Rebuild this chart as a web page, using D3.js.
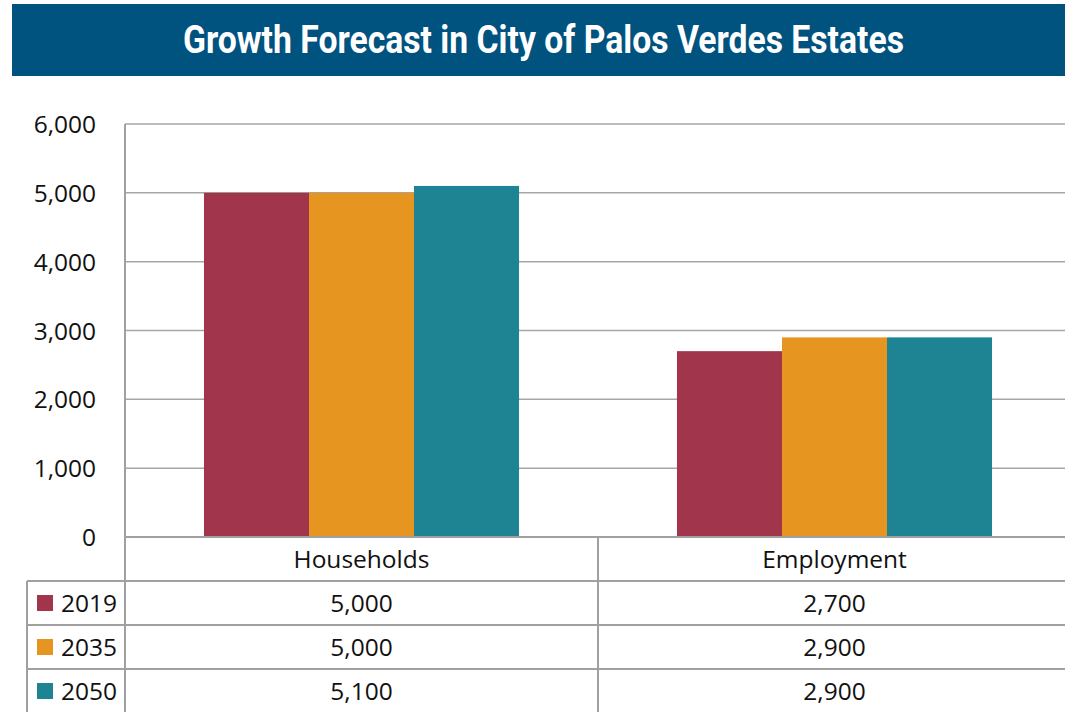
<!DOCTYPE html>
<html>
<head>
<meta charset="utf-8">
<script src="https://cdn.jsdelivr.net/npm/d3@7"></script>
<style>
  html, body { margin: 0; padding: 0; background: #ffffff; }
  svg { display: block; }
</style>
</head>
<body>
<svg id="chart" width="1065" height="712"></svg>
<script>
const title = "Growth Forecast in City of Palos Verdes Estates";
const categories = ["Households", "Employment"];
const years = ["2019", "2035", "2050"];
const values2019 = [5000, 2700];
const values2035 = [5000, 2900];
const values2050 = [5100, 2900];
const colors = ["#A0354B", "#E69521", "#1E8494"];
const yTicks = [0, 1000, 2000, 3000, 4000, 5000, 6000];

const seriesValues = [values2019, values2035, values2050];

const svg = d3.select("#chart");
const fmt = d3.format(",");
const fontFamily = "'Open Sans', 'Noto Sans', sans-serif";
const gridColor = "#A6A6A6";
const tableColor = "#A0A0A0";

// Title banner
svg.append("rect").attr("x", 12).attr("y", 4).attr("width", 1053).attr("height", 72).attr("fill", "#00527F");
svg.append("text")
  .attr("x", 543.5).attr("y", 53)
  .attr("text-anchor", "middle")
  .attr("font-family", "Roboto, 'DejaVu Sans', sans-serif")
  .attr("font-weight", "bold")
  .attr("font-size", 38)
  .attr("fill", "#ffffff")
  .attr("textLength", 721)
  .attr("lengthAdjust", "spacingAndGlyphs")
  .text(title);

// Plot geometry
const plotLeft = 125, plotRight = 1071, plotTop = 124, plotBottom = 537;
const rowH = 44;

const y = d3.scaleLinear().domain([0, 6000]).range([plotBottom, plotTop]);
const x0 = d3.scaleBand().domain(categories).range([plotLeft, plotRight]).paddingInner(0).paddingOuter(0);
const x1 = d3.scaleBand().domain(years).range([0, x0.bandwidth()]).paddingInner(0).paddingOuter(0.752);

// Gridlines
svg.append("g").selectAll("line").data(yTicks.filter(d => d > 0)).join("line")
  .attr("x1", plotLeft).attr("x2", 1065)
  .attr("y1", d => y(d)).attr("y2", d => y(d))
  .attr("stroke", gridColor).attr("stroke-width", 1.5);

// Y axis via d3.axisLeft
const yAxis = d3.axisLeft(y).tickValues(yTicks).tickFormat(fmt).tickSize(0).tickPadding(29);
const yg = svg.append("g").attr("transform", `translate(${plotLeft},0)`).call(yAxis);
yg.select(".domain").remove();
yg.selectAll("text")
  .attr("font-family", fontFamily).attr("font-size", 24.5).attr("fill", "#111").attr("dy", "0.35em");

// Bars
const groups = svg.append("g").selectAll("g").data(categories).join("g")
  .attr("transform", d => `translate(${x0(d)},0)`);
groups.selectAll("rect")
  .data((c, ci) => years.map((yr, si) => ({ yr, si, v: seriesValues[si][ci] })))
  .join("rect")
  .attr("x", d => x1(d.yr))
  .attr("width", x1.bandwidth())
  .attr("y", d => y(d.v))
  .attr("height", d => y(0) - y(d.v))
  .attr("fill", d => colors[d.si]);

// Data table
const tbl = svg.append("g");
// horizontal lines
tbl.append("line").attr("x1", plotLeft).attr("x2", 1065).attr("y1", plotBottom).attr("y2", plotBottom)
  .attr("stroke", tableColor).attr("stroke-width", 2);
for (let i = 1; i <= years.length; i++) {
  const yy = plotBottom + rowH * i - (i === 1 ? 1 : 0);
  tbl.append("line").attr("x1", 27).attr("x2", 1065).attr("y1", plotBottom + rowH * i).attr("y2", plotBottom + rowH * i)
    .attr("stroke", tableColor).attr("stroke-width", 2);
}
// vertical lines
tbl.append("line").attr("x1", plotLeft).attr("x2", plotLeft).attr("y1", plotTop).attr("y2", 712)
  .attr("stroke", tableColor).attr("stroke-width", 2);
tbl.append("line").attr("x1", 27).attr("x2", 27).attr("y1", plotBottom + rowH).attr("y2", 712)
  .attr("stroke", tableColor).attr("stroke-width", 2);
categories.forEach((c, i) => {
  if (i > 0) {
    tbl.append("line").attr("x1", x0(c)).attr("x2", x0(c)).attr("y1", plotBottom).attr("y2", 712)
      .attr("stroke", tableColor).attr("stroke-width", 2);
  }
});
// header
tbl.selectAll("text.cat").data(categories).join("text").attr("class", "cat")
  .attr("x", d => x0(d) + x0.bandwidth() / 2)
  .attr("y", plotBottom + rowH / 2)
  .attr("dy", "0.35em")
  .attr("text-anchor", "middle")
  .attr("font-family", fontFamily).attr("font-size", 24.5).attr("fill", "#111")
  .text(d => d);
// rows
years.forEach((yr, si) => {
  const cy = plotBottom + rowH * (si + 1) + rowH / 2;
  tbl.append("rect").attr("x", 37).attr("y", cy - 8).attr("width", 16).attr("height", 16).attr("fill", colors[si]);
  tbl.append("text").attr("x", 61).attr("y", cy).attr("dy", "0.35em")
    .attr("font-family", fontFamily).attr("font-size", 24.5).attr("fill", "#111").text(yr);
  categories.forEach((c, ci) => {
    tbl.append("text")
      .attr("x", x0(c) + x0.bandwidth() / 2).attr("y", cy).attr("dy", "0.35em")
      .attr("text-anchor", "middle")
      .attr("font-family", fontFamily).attr("font-size", 24.5).attr("fill", "#111")
      .text(fmt(seriesValues[si][ci]));
  });
});
</script>
</body>
</html>
